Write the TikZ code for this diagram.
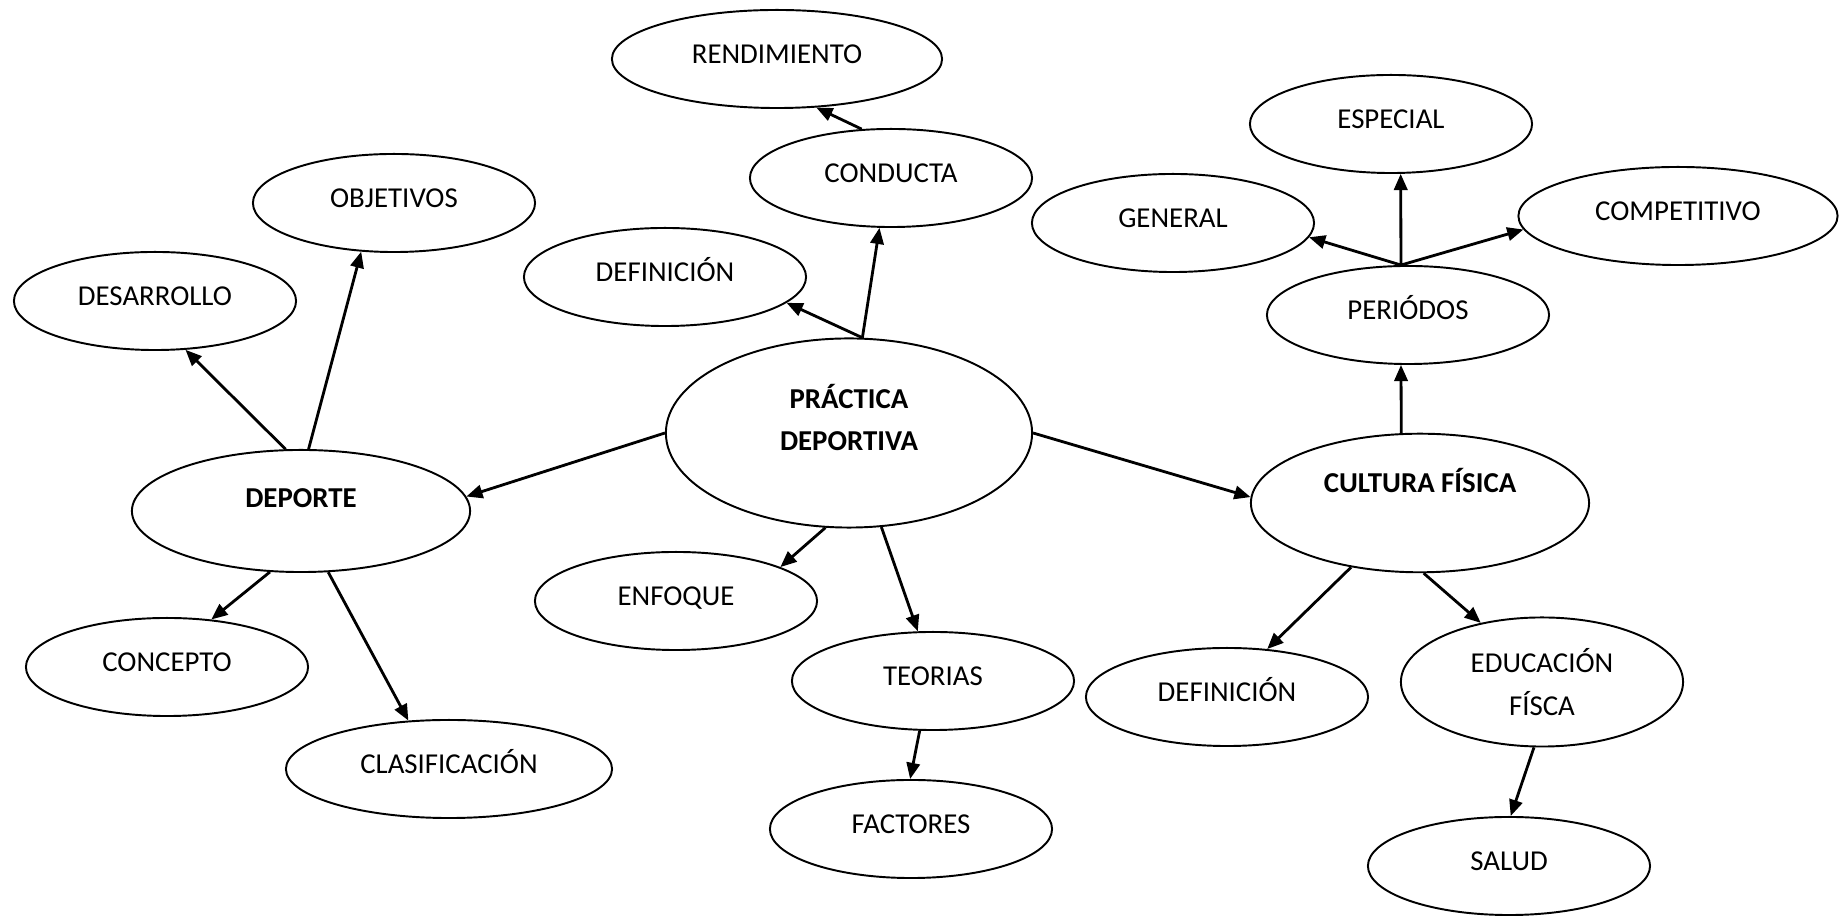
\documentclass[tikz,border=0pt]{standalone}
\usepackage{fontspec}
\setmainfont{Carlito}
\usetikzlibrary{shapes.geometric, arrows.meta}
\tikzstyle{bubble} = [
    ellipse,
    draw=black,
    line width=0.55pt,
    minimum width=2.82cm,
    minimum height=0.98cm,
    inner sep=0pt,
    text height=5.3pt,
    text depth=2.8pt,
    font=\fontsize{8.2}{12}\selectfont
]
\tikzstyle{mainbubble} = [bubble, font=\fontsize{8.2}{12}\selectfont\bfseries]
\tikzstyle{arrow} = [-{Triangle[length=4.6pt,width=3.8pt]}, line width=0.8pt]

\begin{document}
\begin{tikzpicture}[x=0.01cm, y=-0.01cm]
    \useasboundingbox (0,0) rectangle (1841,916);

    % Centre
    \node (prac) [mainbubble, minimum width=3.66cm, minimum height=1.89cm, align=center, text height={}, text depth=8.7pt] at (849,433) {PRÁCTICA\\DEPORTIVA};
    \node (cond) [bubble] at (891,178) {CONDUCTA};
    \node (rend) [bubble, minimum width=3.30cm] at (777,59) {RENDIMIENTO};
    \node (defi) [bubble] at (665,277) {DEFINICIÓN};
    \node (enf) [bubble] at (676,601) {ENFOQUE};
    \node (teo) [bubble] at (933,681) {TEORIAS};
    \node (fact) [bubble] at (911,829) {FACTORES};

    % Deporte
    \node (dep) [mainbubble, minimum width=3.38cm, minimum height=1.22cm, text depth=7.4pt] at (301,511) {DEPORTE};
    \node (des) [bubble] at (155,301) {DESARROLLO};
    \node (obj) [bubble] at (394,203) {OBJETIVOS};
    \node (conc) [bubble] at (167,667) {CONCEPTO};
    \node (clas) [bubble, minimum width=3.26cm] at (449,769) {CLASIFICACIÓN};

    % Cultura fisica
    \node (cult) [mainbubble, minimum width=3.38cm, minimum height=1.385cm, text depth=11.4pt] at (1420,503) {CULTURA FÍSICA};
    \node (per) [bubble] at (1408,315) {PERIÓDOS};
    \node (esp) [bubble] at (1391,124) {ESPECIAL};
    \node (gen) [bubble] at (1173,223) {GENERAL};
    \node (comp) [bubble, minimum width=3.19cm] at (1678,216) {COMPETITIVO};
    \node (defc) [bubble] at (1227,697) {DEFINICIÓN};
    \node (edu) [bubble, minimum height=1.29cm, align=center, text height={}, text depth={}] at (1542,682) {EDUCACIÓN\\FÍSCA};
    \node (sal) [bubble] at (1509,866) {SALUD};

    % Arrows
    \draw [arrow] (cond.121) -- (rend.-51);
    \draw [arrow] (prac.82) -- (cond.-103);
    \draw [arrow] (prac.82) -- (defi.-12);
    \draw [arrow] (prac.west) -- (dep.5);
    \draw [arrow] (prac.east) -- (cult.178);
    \draw [arrow] (prac.-104) -- (enf.18);
    \draw [arrow] (prac.-71) -- (teo.107);
    \draw [arrow] (teo.-105) -- (fact.91);

    \draw [arrow] (dep.104) -- (des.-58);
    \draw [arrow] (dep.83) -- (obj.-124);
    \draw [arrow] (dep.-117) -- (conc.47);
    \draw [arrow] (dep.-66) -- (clas.130);

    \draw [arrow] (cult.105) -- (per.-98);
    \draw [arrow] (per.98) -- (esp.-79);
    \draw [arrow] (per.98) -- (gen.-6);
    \draw [arrow] (per.98) -- (comp.185);
    \draw [arrow] (cult.-137) -- (defc.50);
    \draw [arrow] (cult.-87) -- (edu.136);
    \draw [arrow] (edu.-97) -- (sal.88);
\end{tikzpicture}
\end{document}
